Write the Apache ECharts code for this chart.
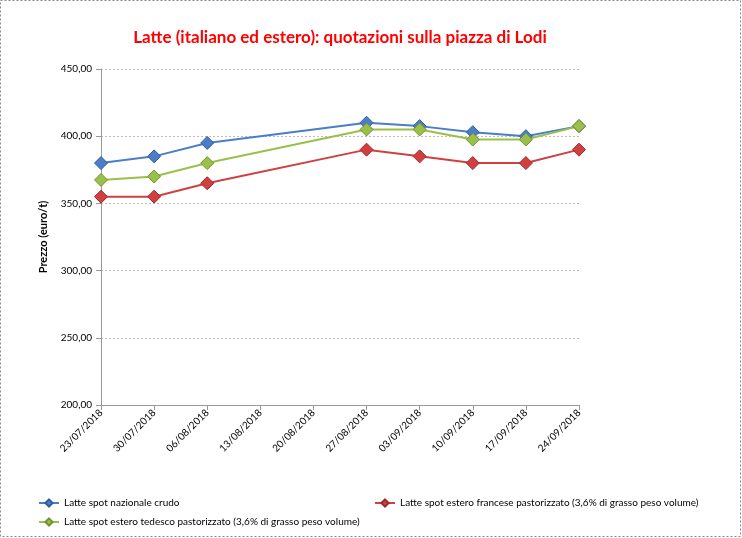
<!DOCTYPE html>
<html><head><meta charset="utf-8">
<script src="https://cdn.jsdelivr.net/npm/echarts@6/dist/echarts.min.js"></script>
<style>html,body{margin:0;padding:0;background:#fff}#c{width:742px;height:538px}</style>
</head><body><div id="c"></div>
<script>
const categories = ['23/07/2018','30/07/2018','06/08/2018','13/08/2018','20/08/2018','27/08/2018','03/09/2018','10/09/2018','17/09/2018','24/09/2018'];
const nazionale = [380, 385, 395, null, null, 410, 407.5, 403, 400, 407.5];
const francese = [355, 355, 365, null, null, 390, 385, 380, 380, 390];
const tedesco = [367.5, 370, 380, null, null, 405, 405, 397.5, 397.5, 407.5];
const yTicks = [200, 250, 300, 350, 400, 450];
const names = ['Latte spot nazionale crudo','Latte spot estero francese pastorizzato (3,6% di grasso peso volume)','Latte spot estero tedesco pastorizzato (3,6% di grasso peso volume)'];

const FONT = 'Lato, "Open Sans", sans-serif';
const chart = echarts.init(document.getElementById('c'));
function ser(name, data, color, edge) {
  return {name, type:'line', data, connectNulls:true, symbol:'diamond', symbolSize:13,
    lineStyle:{color, width:2}, itemStyle:{color, borderColor:edge, borderWidth:1},
    emphasis:{disabled:true}, z: 3};
}
const legStyle = {itemWidth:20, itemHeight:9, padding:0, textStyle:{fontFamily:FONT, fontSize:10, color:'#000'}};
chart.setOption({
  animation:false,
  textStyle:{fontFamily:FONT},
  graphic:[{type:'rect', shape:{x:0.5,y:0.5,width:740,height:536}, style:{fill:null, stroke:'#888', lineDash:[2,2], lineWidth:1}, silent:true}],
  title:{text:'Latte (italiano ed estero): quotazioni sulla piazza di Lodi', left:335, top:24, textAlign:'center',
    textStyle:{color:'#FF0000', fontSize:17, fontWeight:'bold', fontFamily:FONT}},
  grid:{left:101, right:163, top:69, bottom:133, containLabel:false},
  legend:[
    Object.assign({data:[names[0]], left:38, top:498}, legStyle),
    Object.assign({data:[names[1]], left:374, top:498}, legStyle),
    Object.assign({data:[names[2]], left:38, top:517}, legStyle)
  ],
  xAxis:{type:'category', data:categories, boundaryGap:false,
    axisLine:{lineStyle:{color:'#999'}}, axisTick:{show:true, alignWithLabel:true, length:5, lineStyle:{color:'#999'}},
    axisLabel:{rotate:45, fontSize:10, color:'#000', fontFamily:FONT, margin:6, interval:0}},
  yAxis:{type:'value', min:yTicks[0], max:yTicks[yTicks.length-1], interval:50,
    name:'Prezzo (euro/t)', nameLocation:'middle', nameGap:52, nameRotate:90,
    nameTextStyle:{fontSize:11, fontWeight:'bold', color:'#000', fontFamily:FONT},
    axisLine:{show:true, lineStyle:{color:'#999'}}, axisTick:{show:true, length:5, lineStyle:{color:'#999'}},
    axisLabel:{fontSize:10, color:'#000', fontFamily:FONT, margin:9, formatter:v=>v.toFixed(2).replace('.',',')},
    splitLine:{lineStyle:{color:'#bbb', type:[2,2]}}},
  series:[
    ser(names[0], nazionale, '#4A7EC6', '#2F5E9E'),
    ser(names[1], francese, '#D04040', '#A02828'),
    ser(names[2], tedesco, '#9BC04A', '#73922F')
  ]
});
</script></body></html>
